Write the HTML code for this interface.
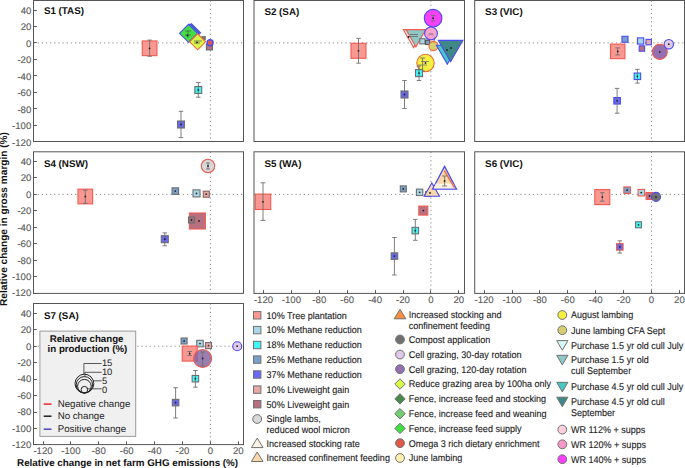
<!DOCTYPE html>
<html><head><meta charset="utf-8"><style>
html,body{margin:0;padding:0;background:#fff;width:685px;height:468px;overflow:hidden}
svg{display:block;text-rendering:geometricPrecision}
</style></head><body>
<svg width="685" height="468" viewBox="0 0 685 468" font-family='"Liberation Sans", sans-serif'><rect width="685" height="468" fill="#fff"/><defs><clipPath id="cp0"><rect x="33.5" y="0.5" width="210.0" height="141.0"/></clipPath><clipPath id="cp1"><rect x="254.0" y="0.5" width="210.5" height="141.0"/></clipPath><clipPath id="cp2"><rect x="474.7" y="0.5" width="209.8" height="141.0"/></clipPath><clipPath id="cp3"><rect x="33.5" y="151.8" width="210.0" height="141.59999999999997"/></clipPath><clipPath id="cp4"><rect x="254.0" y="151.8" width="210.5" height="141.59999999999997"/></clipPath><clipPath id="cp5"><rect x="474.7" y="151.8" width="209.8" height="141.59999999999997"/></clipPath><clipPath id="cp6"><rect x="33.5" y="303.5" width="210.0" height="141.10000000000002"/></clipPath></defs><g clip-path="url(#cp0)"><line x1="33.5" y1="42.9" x2="243.5" y2="42.9" stroke="#8a8a8a" stroke-width="1" stroke-dasharray="1.2 2.95"/><line x1="210.4" y1="0.5" x2="210.4" y2="141.5" stroke="#8a8a8a" stroke-width="1" stroke-dasharray="1.2 2.95"/></g><g clip-path="url(#cp1)"><line x1="254.0" y1="42.9" x2="464.5" y2="42.9" stroke="#8a8a8a" stroke-width="1" stroke-dasharray="1.2 2.95"/><line x1="430.9" y1="0.5" x2="430.9" y2="141.5" stroke="#8a8a8a" stroke-width="1" stroke-dasharray="1.2 2.95"/></g><g clip-path="url(#cp2)"><line x1="474.7" y1="42.9" x2="684.5" y2="42.9" stroke="#8a8a8a" stroke-width="1" stroke-dasharray="1.2 2.95"/><line x1="651.5" y1="0.5" x2="651.5" y2="141.5" stroke="#8a8a8a" stroke-width="1" stroke-dasharray="1.2 2.95"/></g><g clip-path="url(#cp3)"><line x1="33.5" y1="194.4" x2="243.5" y2="194.4" stroke="#8a8a8a" stroke-width="1" stroke-dasharray="1.2 2.95"/><line x1="210.4" y1="151.8" x2="210.4" y2="293.4" stroke="#8a8a8a" stroke-width="1" stroke-dasharray="1.2 2.95"/></g><g clip-path="url(#cp4)"><line x1="254.0" y1="194.4" x2="464.5" y2="194.4" stroke="#8a8a8a" stroke-width="1" stroke-dasharray="1.2 2.95"/><line x1="430.9" y1="151.8" x2="430.9" y2="293.4" stroke="#8a8a8a" stroke-width="1" stroke-dasharray="1.2 2.95"/></g><g clip-path="url(#cp5)"><line x1="474.7" y1="194.4" x2="684.5" y2="194.4" stroke="#8a8a8a" stroke-width="1" stroke-dasharray="1.2 2.95"/><line x1="651.5" y1="151.8" x2="651.5" y2="293.4" stroke="#8a8a8a" stroke-width="1" stroke-dasharray="1.2 2.95"/></g><g clip-path="url(#cp6)"><line x1="33.5" y1="346.2" x2="243.5" y2="346.2" stroke="#8a8a8a" stroke-width="1" stroke-dasharray="1.2 2.95"/><line x1="210.4" y1="303.5" x2="210.4" y2="444.6" stroke="#8a8a8a" stroke-width="1" stroke-dasharray="1.2 2.95"/></g><g clip-path="url(#cp0)"><rect x="142.25" y="40.95" width="14.70" height="14.70" fill="#f89890" stroke="#f25a50" stroke-width="1.1"/><path d="M149.60 40.10V56.30M147.35 40.10h4.5M147.35 56.30h4.5" stroke="#707070" stroke-width="0.9" fill="none"/><circle cx="149.60" cy="48.30" r="0.9" fill="#222"/><polygon points="182.50,32.70 191.50,23.70 200.50,32.70 191.50,41.70" fill="#488848" stroke="#4a4af2" stroke-width="1.1" stroke-linejoin="miter"/><polygon points="181.00,33.00 190.00,24.00 199.00,33.00 190.00,42.00" fill="#70d070" stroke="#4a4af2" stroke-width="1.1" stroke-linejoin="miter"/><polygon points="179.50,33.30 188.50,24.30 197.50,33.30 188.50,42.30" fill="#40e040" stroke="#4a4af2" stroke-width="1.1" stroke-linejoin="miter"/><path d="M185 31h6M185 35h6M188 30v8" stroke="#555" stroke-width="0.7"/><circle cx="187.50" cy="35.50" r="0.9" fill="#222"/><rect x="201.90" y="36.50" width="3.40" height="3.40" fill="#777" stroke="#666" stroke-width="0.8"/><polygon points="189.60,41.80 197.60,33.80 205.60,41.80 197.60,49.80" fill="#d8f848" stroke="#f06838" stroke-width="1.1" stroke-linejoin="miter"/><path d="M194 41h8M194 43h6" stroke="#555" stroke-width="0.7"/><circle cx="197.00" cy="42.50" r="0.9" fill="#222"/><rect x="206.40" y="43.90" width="6.00" height="6.00" fill="#b87080" stroke="#666" stroke-width="1.1"/><circle cx="210.10" cy="42.80" r="3.00" fill="#e05848" stroke="#4a4af2" stroke-width="1.4"/><rect x="194.85" y="86.55" width="6.90" height="6.90" fill="#40f6f6" stroke="#6e6e6e" stroke-width="1.1"/><path d="M198.30 82.50V97.20M196.05 82.50h4.5M196.05 97.20h4.5" stroke="#707070" stroke-width="0.9" fill="none"/><circle cx="198.30" cy="90.00" r="0.9" fill="#222"/><rect x="177.50" y="121.00" width="7.00" height="7.00" fill="#6868f6" stroke="#6e6e6e" stroke-width="1.1"/><path d="M181.00 111.30V137.60M178.75 111.30h4.5M178.75 137.60h4.5" stroke="#707070" stroke-width="0.9" fill="none"/><circle cx="181.00" cy="124.50" r="0.9" fill="#222"/></g><g clip-path="url(#cp1)"><rect x="351.00" y="43.30" width="15.00" height="15.00" fill="#f89890" stroke="#f25a50" stroke-width="1.1"/><path d="M358.50 38.30V63.20M356.25 38.30h4.5M356.25 63.20h4.5" stroke="#707070" stroke-width="0.9" fill="none"/><circle cx="358.50" cy="50.80" r="0.9" fill="#222"/><circle cx="433.10" cy="18.20" r="8.80" fill="#f840f8" stroke="#4a4af2" stroke-width="1.1"/><path d="M433.10 15.50V21.00M431.10 15.50h4M431.10 21.00h4" stroke="#707070" stroke-width="0.9" fill="none"/><circle cx="433.10" cy="18.20" r="0.9" fill="#222"/><polygon points="403.30,29.60 424.00,29.60 413.60,47.60" fill="#d8f8f8" stroke="#f25a50" stroke-width="1.1" stroke-linejoin="miter"/><polygon points="406.00,29.60 425.80,29.60 415.90,46.80" fill="#90c8c8" stroke="#f25a50" stroke-width="1.1" stroke-linejoin="miter"/><path d="M408 36.5h10M410 34.5h8" stroke="#666" stroke-width="0.8"/><circle cx="408.50" cy="37.00" r="0.9" fill="#222"/><circle cx="430.80" cy="38.60" r="4.00" fill="#ffd0dc" stroke="#4a4af2" stroke-width="0.9"/><circle cx="431" cy="33.4" r="6.4" fill="#f898c8" fill-opacity="0.88" stroke="#4a4af2" stroke-width="1.1"/><path d="M428.5 34h5" stroke="#777" stroke-width="1.2"/><rect x="419.80" y="38.70" width="5.20" height="5.20" fill="#a8d8e8" stroke="#6e6e6e" stroke-width="1.1"/><rect x="425.50" y="40.30" width="4.20" height="4.20" fill="#78a0c8" stroke="#555" stroke-width="1.1"/><circle cx="433.50" cy="46.10" r="4.50" fill="#d8d070" stroke="#f06838" stroke-width="1.1"/><polygon points="447.30,64.19 436.40,45.31 458.20,45.31" fill="#48c8c0" stroke="#4a4af2" stroke-width="1.1" stroke-linejoin="miter"/><polygon points="450.60,61.70 438.30,40.40 462.90,40.40" fill="#408888" stroke="#4a4af2" stroke-width="1.1" stroke-linejoin="miter"/><circle cx="447.00" cy="50.00" r="0.9" fill="#222"/><circle cx="451.00" cy="48.00" r="0.9" fill="#222"/><circle cx="425.50" cy="63.00" r="8.70" fill="#f8f040" stroke="#f06838" stroke-width="1.1"/><path d="M422.60 58.00V71.00M420.10 58.00h5M420.10 71.00h5" stroke="#707070" stroke-width="0.9" fill="none"/><path d="M418 65h9M421 61.5h8" stroke="#777" stroke-width="0.8"/><circle cx="425.50" cy="63.00" r="0.9" fill="#222"/><rect x="415.50" y="69.60" width="7.00" height="7.00" fill="#40f6f6" stroke="#6e6e6e" stroke-width="1.1"/><path d="M419.00 66.00V80.50M416.75 66.00h4.5M416.75 80.50h4.5" stroke="#707070" stroke-width="0.9" fill="none"/><circle cx="419.00" cy="73.10" r="0.9" fill="#222"/><rect x="401.00" y="91.00" width="7.00" height="7.00" fill="#6868f6" stroke="#6e6e6e" stroke-width="1.1"/><path d="M404.50 80.50V108.50M402.25 80.50h4.5M402.25 108.50h4.5" stroke="#707070" stroke-width="0.9" fill="none"/><circle cx="404.50" cy="94.50" r="0.9" fill="#222"/></g><g clip-path="url(#cp2)"><rect x="610.45" y="44.15" width="14.50" height="14.50" fill="#f89890" stroke="#f25a50" stroke-width="1.1"/><path d="M617.70 47.90V54.90M615.45 47.90h4.5M615.45 54.90h4.5" stroke="#707070" stroke-width="0.9" fill="none"/><circle cx="617.70" cy="51.40" r="0.9" fill="#222"/><rect x="622.00" y="36.30" width="6.00" height="6.00" fill="#78a0c8" stroke="#4a4af2" stroke-width="1.1"/><rect x="637.50" y="37.90" width="6.20" height="6.20" fill="#a8d8e8" stroke="#4a4af2" stroke-width="1.1"/><rect x="646.00" y="39.40" width="5.40" height="5.40" fill="#e8a8a8" stroke="#4a4af2" stroke-width="1.1"/><rect x="639.20" y="45.80" width="5.40" height="5.40" fill="#b87080" stroke="#4a4af2" stroke-width="1.1"/><circle cx="659.80" cy="51.90" r="7.50" fill="#9470b0" stroke="#f25a50" stroke-width="1.1"/><circle cx="659.80" cy="51.90" r="0.9" fill="#222"/><circle cx="668.80" cy="44.20" r="4.70" fill="#e0c8e8" stroke="#4a4af2" stroke-width="1.1"/><circle cx="668.80" cy="44.20" r="0.9" fill="#222"/><rect x="634.15" y="73.05" width="6.50" height="6.50" fill="#40f6f6" stroke="#4a4af2" stroke-width="1.1"/><path d="M637.40 69.40V83.10M635.15 69.40h4.5M635.15 83.10h4.5" stroke="#707070" stroke-width="0.9" fill="none"/><circle cx="637.40" cy="76.30" r="0.9" fill="#222"/><rect x="613.85" y="97.55" width="6.50" height="6.50" fill="#6868f6" stroke="#4a4af2" stroke-width="1.1"/><path d="M617.10 88.40V113.20M614.85 88.40h4.5M614.85 113.20h4.5" stroke="#707070" stroke-width="0.9" fill="none"/><circle cx="617.10" cy="100.80" r="0.9" fill="#222"/></g><g clip-path="url(#cp3)"><rect x="77.95" y="189.15" width="14.70" height="14.70" fill="#f89890" stroke="#f25a50" stroke-width="1.1"/><path d="M85.30 190.20V203.30M83.05 190.20h4.5M83.05 203.30h4.5" stroke="#707070" stroke-width="0.9" fill="none"/><circle cx="85.30" cy="196.50" r="0.9" fill="#222"/><circle cx="208.00" cy="166.00" r="6.70" fill="#d8d8d8" stroke="#f25a50" stroke-width="1.1"/><path d="M208.00 163.00V169.00M206.00 163.00h4M206.00 169.00h4" stroke="#707070" stroke-width="0.9" fill="none"/><circle cx="208.00" cy="166.00" r="0.9" fill="#222"/><rect x="172.05" y="187.85" width="6.50" height="6.50" fill="#78a0c8" stroke="#6e6e6e" stroke-width="1.1"/><circle cx="175.30" cy="191.10" r="0.9" fill="#222"/><rect x="193.00" y="189.90" width="7.00" height="7.00" fill="#a8d8e8" stroke="#6e6e6e" stroke-width="1.1"/><circle cx="196.50" cy="193.40" r="0.9" fill="#222"/><rect x="203.30" y="191.20" width="6.00" height="6.00" fill="#e8a8a8" stroke="#8a6060" stroke-width="1.1"/><circle cx="206.30" cy="194.20" r="0.9" fill="#222"/><rect x="189.40" y="213.00" width="16.00" height="16.00" fill="#b87080" stroke="#f25a50" stroke-width="1.1"/><circle cx="199.00" cy="221.00" r="0.9" fill="#222"/><rect x="188.50" y="217.00" width="6.00" height="6.00" fill="#a07080" stroke="#6e6e6e" stroke-width="1.1"/><circle cx="191.50" cy="220.00" r="0.9" fill="#222"/><rect x="161.30" y="235.70" width="7.00" height="7.00" fill="#6868f6" stroke="#6e6e6e" stroke-width="1.1"/><path d="M164.80 232.90V245.80M162.55 232.90h4.5M162.55 245.80h4.5" stroke="#707070" stroke-width="0.9" fill="none"/><circle cx="164.80" cy="239.20" r="0.9" fill="#222"/></g><g clip-path="url(#cp4)"><rect x="255.30" y="194.10" width="15.40" height="15.40" fill="#f89890" stroke="#f25a50" stroke-width="1.1"/><path d="M263.00 182.80V220.40M260.50 182.80h5M260.50 220.40h5" stroke="#707070" stroke-width="0.9" fill="none"/><circle cx="263.00" cy="201.80" r="0.9" fill="#222"/><rect x="400.30" y="185.90" width="6.00" height="6.00" fill="#78a0c8" stroke="#6e6e6e" stroke-width="1.1"/><circle cx="403.30" cy="188.90" r="0.9" fill="#222"/><rect x="416.40" y="189.10" width="6.40" height="6.40" fill="#a8d8e8" stroke="#6e6e6e" stroke-width="1.1"/><circle cx="419.60" cy="192.30" r="0.9" fill="#222"/><rect x="425.80" y="191.50" width="5.00" height="5.00" fill="#888" stroke="#555" stroke-width="1.1"/><polygon points="431.80,182.91 424.10,196.25 439.50,196.25" fill="#f8d8a8" stroke="#4a4af2" stroke-width="1.1" stroke-linejoin="miter"/><circle cx="430.00" cy="193.00" r="0.9" fill="#222"/><polygon points="444.60,166.40 432.60,189.00 456.50,189.00" fill="#f8d8a8" stroke="#4a4af2" stroke-width="1.3" stroke-linejoin="miter"/><polygon points="436.00,183.50 433.60,188.40 455.50,188.40 453.00,183.50" fill="#fff4e4" stroke="none" stroke-width="0" stroke-linejoin="miter"/><path d="M444.4 170.6L454.5 187.8" stroke="#f06838" stroke-width="1.3"/><path d="M444.60 176.00V186.00M442.10 176.00h5M442.10 186.00h5" stroke="#707070" stroke-width="0.9" fill="none"/><circle cx="444.60" cy="181.00" r="0.9" fill="#222"/><rect x="418.80" y="206.10" width="9.00" height="9.00" fill="#b87080" stroke="#f25a50" stroke-width="1.1"/><circle cx="423.30" cy="210.60" r="0.9" fill="#222"/><rect x="412.05" y="227.35" width="6.50" height="6.50" fill="#40f6f6" stroke="#6e6e6e" stroke-width="1.1"/><path d="M415.30 219.40V240.30M413.05 219.40h4.5M413.05 240.30h4.5" stroke="#707070" stroke-width="0.9" fill="none"/><circle cx="415.30" cy="230.60" r="0.9" fill="#222"/><rect x="391.15" y="252.85" width="6.50" height="6.50" fill="#6868f6" stroke="#6e6e6e" stroke-width="1.1"/><path d="M394.40 237.50V275.00M392.15 237.50h4.5M392.15 275.00h4.5" stroke="#707070" stroke-width="0.9" fill="none"/><circle cx="394.40" cy="256.10" r="0.9" fill="#222"/></g><g clip-path="url(#cp5)"><rect x="594.80" y="189.60" width="15.00" height="15.00" fill="#f89890" stroke="#f25a50" stroke-width="1.1"/><path d="M602.30 192.70V201.20M600.05 192.70h4.5M600.05 201.20h4.5" stroke="#707070" stroke-width="0.9" fill="none"/><circle cx="602.30" cy="197.10" r="0.9" fill="#222"/><rect x="623.85" y="186.95" width="6.50" height="6.50" fill="#78a0c8" stroke="#f25a50" stroke-width="1.1"/><circle cx="627.10" cy="190.20" r="0.9" fill="#222"/><rect x="638.05" y="189.45" width="6.50" height="6.50" fill="#a8d8e8" stroke="#f25a50" stroke-width="1.1"/><circle cx="641.30" cy="192.70" r="0.9" fill="#222"/><rect x="646.10" y="192.50" width="7.00" height="7.00" fill="#b87080" stroke="#f25a50" stroke-width="1.1"/><circle cx="649.60" cy="196.00" r="0.9" fill="#222"/><circle cx="656.00" cy="196.90" r="4.50" fill="#707070" stroke="#4a4af2" stroke-width="1.1"/><circle cx="656.00" cy="196.90" r="0.9" fill="#222"/><rect x="635.50" y="221.80" width="6.00" height="6.00" fill="#40f6f6" stroke="#6e6e6e" stroke-width="1.1"/><circle cx="638.50" cy="224.80" r="0.9" fill="#222"/><rect x="616.55" y="243.65" width="6.50" height="6.50" fill="#6868f6" stroke="#f25a50" stroke-width="1.1"/><path d="M619.80 240.80V253.10M617.55 240.80h4.5M617.55 253.10h4.5" stroke="#707070" stroke-width="0.9" fill="none"/><circle cx="619.80" cy="246.90" r="0.9" fill="#222"/></g><g clip-path="url(#cp6)"><rect x="181.10" y="338.00" width="6.00" height="6.00" fill="#78a0c8" stroke="#6e6e6e" stroke-width="1.1"/><circle cx="184.10" cy="341.00" r="0.9" fill="#222"/><rect x="196.75" y="340.35" width="6.50" height="6.50" fill="#a8d8e8" stroke="#6e6e6e" stroke-width="1.1"/><circle cx="200.00" cy="343.60" r="0.9" fill="#222"/><rect x="205.50" y="342.60" width="6.00" height="6.00" fill="#e8a8a8" stroke="#6e6e6e" stroke-width="1.1"/><circle cx="208.50" cy="345.60" r="0.9" fill="#222"/><rect x="182.20" y="346.10" width="15.00" height="15.00" fill="#f89890" stroke="#f25a50" stroke-width="1.1"/><path d="M189.70 351.50V355.50M187.45 351.50h4.5M187.45 355.50h4.5" stroke="#707070" stroke-width="0.9" fill="none"/><circle cx="189.70" cy="353.60" r="0.9" fill="#222"/><circle cx="202.6" cy="358.5" r="9" fill="#84629f" fill-opacity="0.82" stroke="#f25a50" stroke-width="1.1"/><path d="M202.60 352.00V366.00M200.35 352.00h4.5M200.35 366.00h4.5" stroke="#707070" stroke-width="0.9" fill="none"/><circle cx="202.60" cy="358.50" r="0.9" fill="#222"/><circle cx="237.20" cy="346.20" r="4.50" fill="#e0c8e8" stroke="#4a4af2" stroke-width="1.1"/><circle cx="237.20" cy="346.20" r="0.9" fill="#222"/><rect x="192.15" y="375.45" width="6.50" height="6.50" fill="#40f6f6" stroke="#6e6e6e" stroke-width="1.1"/><path d="M195.40 370.50V387.20M193.15 370.50h4.5M193.15 387.20h4.5" stroke="#707070" stroke-width="0.9" fill="none"/><circle cx="195.40" cy="378.70" r="0.9" fill="#222"/><rect x="172.35" y="399.35" width="6.50" height="6.50" fill="#6868f6" stroke="#6e6e6e" stroke-width="1.1"/><path d="M175.60 387.70V418.00M173.35 387.70h4.5M173.35 418.00h4.5" stroke="#707070" stroke-width="0.9" fill="none"/><circle cx="175.60" cy="402.60" r="0.9" fill="#222"/></g><rect x="33.5" y="0.5" width="210.0" height="141.0" fill="none" stroke="#555555" stroke-width="1"/><text x="43.90" y="14.10" font-size="9.8" text-anchor="start" font-weight="bold" fill="#111" >S1 (TAS)</text><line x1="33.5" y1="10.50" x2="36.7" y2="10.50" stroke="#555555" stroke-width="1"/><text x="31.30" y="14.00" font-size="9.6" text-anchor="end" font-weight="normal" fill="#585858" stroke="#585858" stroke-width="0.1" >40</text><line x1="33.5" y1="26.50" x2="36.7" y2="26.50" stroke="#555555" stroke-width="1"/><text x="31.30" y="30.45" font-size="9.6" text-anchor="end" font-weight="normal" fill="#585858" stroke="#585858" stroke-width="0.1" >20</text><line x1="33.5" y1="42.50" x2="36.7" y2="42.50" stroke="#555555" stroke-width="1"/><text x="31.30" y="46.90" font-size="9.6" text-anchor="end" font-weight="normal" fill="#585858" stroke="#585858" stroke-width="0.1" >0</text><line x1="33.5" y1="59.50" x2="36.7" y2="59.50" stroke="#555555" stroke-width="1"/><text x="31.30" y="63.35" font-size="9.6" text-anchor="end" font-weight="normal" fill="#585858" stroke="#585858" stroke-width="0.1" >-20</text><line x1="33.5" y1="75.50" x2="36.7" y2="75.50" stroke="#555555" stroke-width="1"/><text x="31.30" y="79.80" font-size="9.6" text-anchor="end" font-weight="normal" fill="#585858" stroke="#585858" stroke-width="0.1" >-40</text><line x1="33.5" y1="92.50" x2="36.7" y2="92.50" stroke="#555555" stroke-width="1"/><text x="31.30" y="96.25" font-size="9.6" text-anchor="end" font-weight="normal" fill="#585858" stroke="#585858" stroke-width="0.1" >-60</text><line x1="33.5" y1="108.50" x2="36.7" y2="108.50" stroke="#555555" stroke-width="1"/><text x="31.30" y="112.70" font-size="9.6" text-anchor="end" font-weight="normal" fill="#585858" stroke="#585858" stroke-width="0.1" >-80</text><line x1="33.5" y1="125.50" x2="36.7" y2="125.50" stroke="#555555" stroke-width="1"/><text x="31.30" y="129.15" font-size="9.6" text-anchor="end" font-weight="normal" fill="#585858" stroke="#585858" stroke-width="0.1" >-100</text><line x1="33.5" y1="141.50" x2="36.7" y2="141.50" stroke="#555555" stroke-width="1"/><text x="31.30" y="145.60" font-size="9.6" text-anchor="end" font-weight="normal" fill="#585858" stroke="#585858" stroke-width="0.1" >-120</text><rect x="254.0" y="0.5" width="210.5" height="141.0" fill="none" stroke="#555555" stroke-width="1"/><text x="264.40" y="15.10" font-size="9.8" text-anchor="start" font-weight="bold" fill="#111" >S2 (SA)</text><rect x="474.7" y="0.5" width="209.8" height="141.0" fill="none" stroke="#555555" stroke-width="1"/><text x="485.10" y="15.10" font-size="9.8" text-anchor="start" font-weight="bold" fill="#111" >S3 (VIC)</text><rect x="33.5" y="151.8" width="210.0" height="141.59999999999997" fill="none" stroke="#555555" stroke-width="1"/><text x="43.90" y="167.30" font-size="9.8" text-anchor="start" font-weight="bold" fill="#111" >S4 (NSW)</text><line x1="33.5" y1="161.50" x2="36.7" y2="161.50" stroke="#555555" stroke-width="1"/><text x="31.30" y="164.80" font-size="9.6" text-anchor="end" font-weight="normal" fill="#585858" stroke="#585858" stroke-width="0.1" >40</text><line x1="33.5" y1="177.50" x2="36.7" y2="177.50" stroke="#555555" stroke-width="1"/><text x="31.30" y="181.25" font-size="9.6" text-anchor="end" font-weight="normal" fill="#585858" stroke="#585858" stroke-width="0.1" >20</text><line x1="33.5" y1="194.50" x2="36.7" y2="194.50" stroke="#555555" stroke-width="1"/><text x="31.30" y="197.70" font-size="9.6" text-anchor="end" font-weight="normal" fill="#585858" stroke="#585858" stroke-width="0.1" >0</text><line x1="33.5" y1="210.50" x2="36.7" y2="210.50" stroke="#555555" stroke-width="1"/><text x="31.30" y="214.15" font-size="9.6" text-anchor="end" font-weight="normal" fill="#585858" stroke="#585858" stroke-width="0.1" >-20</text><line x1="33.5" y1="227.50" x2="36.7" y2="227.50" stroke="#555555" stroke-width="1"/><text x="31.30" y="230.60" font-size="9.6" text-anchor="end" font-weight="normal" fill="#585858" stroke="#585858" stroke-width="0.1" >-40</text><line x1="33.5" y1="243.50" x2="36.7" y2="243.50" stroke="#555555" stroke-width="1"/><text x="31.30" y="247.05" font-size="9.6" text-anchor="end" font-weight="normal" fill="#585858" stroke="#585858" stroke-width="0.1" >-60</text><line x1="33.5" y1="260.50" x2="36.7" y2="260.50" stroke="#555555" stroke-width="1"/><text x="31.30" y="263.50" font-size="9.6" text-anchor="end" font-weight="normal" fill="#585858" stroke="#585858" stroke-width="0.1" >-80</text><line x1="33.5" y1="276.50" x2="36.7" y2="276.50" stroke="#555555" stroke-width="1"/><text x="31.30" y="279.95" font-size="9.6" text-anchor="end" font-weight="normal" fill="#585858" stroke="#585858" stroke-width="0.1" >-100</text><line x1="33.5" y1="293.50" x2="36.7" y2="293.50" stroke="#555555" stroke-width="1"/><text x="31.30" y="296.40" font-size="9.6" text-anchor="end" font-weight="normal" fill="#585858" stroke="#585858" stroke-width="0.1" >-120</text><rect x="254.0" y="151.8" width="210.5" height="141.59999999999997" fill="none" stroke="#555555" stroke-width="1"/><text x="264.40" y="167.30" font-size="9.8" text-anchor="start" font-weight="bold" fill="#111" >S5 (WA)</text><line x1="263.50" y1="293.4" x2="263.50" y2="290.2" stroke="#555555" stroke-width="1"/><text x="263.50" y="303.00" font-size="9.6" text-anchor="middle" font-weight="normal" fill="#585858" stroke="#585858" stroke-width="0.1" >-120</text><line x1="291.50" y1="293.4" x2="291.50" y2="290.2" stroke="#555555" stroke-width="1"/><text x="291.40" y="303.00" font-size="9.6" text-anchor="middle" font-weight="normal" fill="#585858" stroke="#585858" stroke-width="0.1" >-100</text><line x1="319.50" y1="293.4" x2="319.50" y2="290.2" stroke="#555555" stroke-width="1"/><text x="319.30" y="303.00" font-size="9.6" text-anchor="middle" font-weight="normal" fill="#585858" stroke="#585858" stroke-width="0.1" >-80</text><line x1="347.50" y1="293.4" x2="347.50" y2="290.2" stroke="#555555" stroke-width="1"/><text x="347.20" y="303.00" font-size="9.6" text-anchor="middle" font-weight="normal" fill="#585858" stroke="#585858" stroke-width="0.1" >-60</text><line x1="375.50" y1="293.4" x2="375.50" y2="290.2" stroke="#555555" stroke-width="1"/><text x="375.10" y="303.00" font-size="9.6" text-anchor="middle" font-weight="normal" fill="#585858" stroke="#585858" stroke-width="0.1" >-40</text><line x1="403.50" y1="293.4" x2="403.50" y2="290.2" stroke="#555555" stroke-width="1"/><text x="403.00" y="303.00" font-size="9.6" text-anchor="middle" font-weight="normal" fill="#585858" stroke="#585858" stroke-width="0.1" >-20</text><line x1="430.50" y1="293.4" x2="430.50" y2="290.2" stroke="#555555" stroke-width="1"/><text x="430.90" y="303.00" font-size="9.6" text-anchor="middle" font-weight="normal" fill="#585858" stroke="#585858" stroke-width="0.1" >0</text><line x1="458.50" y1="293.4" x2="458.50" y2="290.2" stroke="#555555" stroke-width="1"/><text x="458.80" y="303.00" font-size="9.6" text-anchor="middle" font-weight="normal" fill="#585858" stroke="#585858" stroke-width="0.1" >20</text><rect x="474.7" y="151.8" width="209.8" height="141.59999999999997" fill="none" stroke="#555555" stroke-width="1"/><text x="485.10" y="167.30" font-size="9.8" text-anchor="start" font-weight="bold" fill="#111" >S6 (VIC)</text><line x1="484.50" y1="293.4" x2="484.50" y2="290.2" stroke="#555555" stroke-width="1"/><text x="484.10" y="303.00" font-size="9.6" text-anchor="middle" font-weight="normal" fill="#585858" stroke="#585858" stroke-width="0.1" >-120</text><line x1="512.50" y1="293.4" x2="512.50" y2="290.2" stroke="#555555" stroke-width="1"/><text x="512.00" y="303.00" font-size="9.6" text-anchor="middle" font-weight="normal" fill="#585858" stroke="#585858" stroke-width="0.1" >-100</text><line x1="539.50" y1="293.4" x2="539.50" y2="290.2" stroke="#555555" stroke-width="1"/><text x="539.90" y="303.00" font-size="9.6" text-anchor="middle" font-weight="normal" fill="#585858" stroke="#585858" stroke-width="0.1" >-80</text><line x1="567.50" y1="293.4" x2="567.50" y2="290.2" stroke="#555555" stroke-width="1"/><text x="567.80" y="303.00" font-size="9.6" text-anchor="middle" font-weight="normal" fill="#585858" stroke="#585858" stroke-width="0.1" >-60</text><line x1="595.50" y1="293.4" x2="595.50" y2="290.2" stroke="#555555" stroke-width="1"/><text x="595.70" y="303.00" font-size="9.6" text-anchor="middle" font-weight="normal" fill="#585858" stroke="#585858" stroke-width="0.1" >-40</text><line x1="623.50" y1="293.4" x2="623.50" y2="290.2" stroke="#555555" stroke-width="1"/><text x="623.60" y="303.00" font-size="9.6" text-anchor="middle" font-weight="normal" fill="#585858" stroke="#585858" stroke-width="0.1" >-20</text><line x1="651.50" y1="293.4" x2="651.50" y2="290.2" stroke="#555555" stroke-width="1"/><text x="651.50" y="303.00" font-size="9.6" text-anchor="middle" font-weight="normal" fill="#585858" stroke="#585858" stroke-width="0.1" >0</text><line x1="679.50" y1="293.4" x2="679.50" y2="290.2" stroke="#555555" stroke-width="1"/><text x="679.40" y="303.00" font-size="9.6" text-anchor="middle" font-weight="normal" fill="#585858" stroke="#585858" stroke-width="0.1" >20</text><rect x="33.5" y="303.5" width="210.0" height="141.10000000000002" fill="none" stroke="#555555" stroke-width="1"/><text x="43.90" y="319.20" font-size="9.8" text-anchor="start" font-weight="bold" fill="#111" >S7 (SA)</text><line x1="33.5" y1="313.50" x2="36.7" y2="313.50" stroke="#555555" stroke-width="1"/><text x="31.30" y="316.60" font-size="9.6" text-anchor="end" font-weight="normal" fill="#585858" stroke="#585858" stroke-width="0.1" >40</text><line x1="33.5" y1="329.50" x2="36.7" y2="329.50" stroke="#555555" stroke-width="1"/><text x="31.30" y="333.05" font-size="9.6" text-anchor="end" font-weight="normal" fill="#585858" stroke="#585858" stroke-width="0.1" >20</text><line x1="33.5" y1="346.50" x2="36.7" y2="346.50" stroke="#555555" stroke-width="1"/><text x="31.30" y="349.50" font-size="9.6" text-anchor="end" font-weight="normal" fill="#585858" stroke="#585858" stroke-width="0.1" >0</text><line x1="33.5" y1="362.50" x2="36.7" y2="362.50" stroke="#555555" stroke-width="1"/><text x="31.30" y="365.95" font-size="9.6" text-anchor="end" font-weight="normal" fill="#585858" stroke="#585858" stroke-width="0.1" >-20</text><line x1="33.5" y1="379.50" x2="36.7" y2="379.50" stroke="#555555" stroke-width="1"/><text x="31.30" y="382.40" font-size="9.6" text-anchor="end" font-weight="normal" fill="#585858" stroke="#585858" stroke-width="0.1" >-40</text><line x1="33.5" y1="395.50" x2="36.7" y2="395.50" stroke="#555555" stroke-width="1"/><text x="31.30" y="398.85" font-size="9.6" text-anchor="end" font-weight="normal" fill="#585858" stroke="#585858" stroke-width="0.1" >-60</text><line x1="33.5" y1="412.50" x2="36.7" y2="412.50" stroke="#555555" stroke-width="1"/><text x="31.30" y="415.30" font-size="9.6" text-anchor="end" font-weight="normal" fill="#585858" stroke="#585858" stroke-width="0.1" >-80</text><line x1="33.5" y1="428.50" x2="36.7" y2="428.50" stroke="#555555" stroke-width="1"/><text x="31.30" y="431.75" font-size="9.6" text-anchor="end" font-weight="normal" fill="#585858" stroke="#585858" stroke-width="0.1" >-100</text><line x1="33.5" y1="444.50" x2="36.7" y2="444.50" stroke="#555555" stroke-width="1"/><text x="31.30" y="448.20" font-size="9.6" text-anchor="end" font-weight="normal" fill="#585858" stroke="#585858" stroke-width="0.1" >-120</text><line x1="43.50" y1="444.6" x2="43.50" y2="441.40000000000003" stroke="#555555" stroke-width="1"/><text x="43.00" y="454.20" font-size="9.6" text-anchor="middle" font-weight="normal" fill="#585858" stroke="#585858" stroke-width="0.1" >-120</text><line x1="70.50" y1="444.6" x2="70.50" y2="441.40000000000003" stroke="#555555" stroke-width="1"/><text x="70.90" y="454.20" font-size="9.6" text-anchor="middle" font-weight="normal" fill="#585858" stroke="#585858" stroke-width="0.1" >-100</text><line x1="98.50" y1="444.6" x2="98.50" y2="441.40000000000003" stroke="#555555" stroke-width="1"/><text x="98.80" y="454.20" font-size="9.6" text-anchor="middle" font-weight="normal" fill="#585858" stroke="#585858" stroke-width="0.1" >-80</text><line x1="126.50" y1="444.6" x2="126.50" y2="441.40000000000003" stroke="#555555" stroke-width="1"/><text x="126.70" y="454.20" font-size="9.6" text-anchor="middle" font-weight="normal" fill="#585858" stroke="#585858" stroke-width="0.1" >-60</text><line x1="154.50" y1="444.6" x2="154.50" y2="441.40000000000003" stroke="#555555" stroke-width="1"/><text x="154.60" y="454.20" font-size="9.6" text-anchor="middle" font-weight="normal" fill="#585858" stroke="#585858" stroke-width="0.1" >-40</text><line x1="182.50" y1="444.6" x2="182.50" y2="441.40000000000003" stroke="#555555" stroke-width="1"/><text x="182.50" y="454.20" font-size="9.6" text-anchor="middle" font-weight="normal" fill="#585858" stroke="#585858" stroke-width="0.1" >-20</text><line x1="210.50" y1="444.6" x2="210.50" y2="441.40000000000003" stroke="#555555" stroke-width="1"/><text x="210.40" y="454.20" font-size="9.6" text-anchor="middle" font-weight="normal" fill="#585858" stroke="#585858" stroke-width="0.1" >0</text><line x1="238.50" y1="444.6" x2="238.50" y2="441.40000000000003" stroke="#555555" stroke-width="1"/><text x="238.30" y="454.20" font-size="9.6" text-anchor="middle" font-weight="normal" fill="#585858" stroke="#585858" stroke-width="0.1" >20</text><rect x="39.9" y="331.1" width="95.8" height="105.3" fill="#f0f0f0" stroke="#9a9a9a" stroke-width="1"/><text x="86.60" y="341.60" font-size="9.7" text-anchor="middle" font-weight="bold" fill="#111" >Relative change</text><text x="87.40" y="352.30" font-size="9.7" text-anchor="middle" font-weight="bold" fill="#111" >in production (%)</text><circle cx="84.4" cy="383.60" r="9.4" fill="none" stroke="#222" stroke-width="1"/><circle cx="84.4" cy="384.80" r="8.2" fill="none" stroke="#222" stroke-width="1"/><circle cx="84.4" cy="386.20" r="6.8" fill="none" stroke="#222" stroke-width="1"/><circle cx="84.4" cy="389.70" r="3.3" fill="none" stroke="#222" stroke-width="1"/><path d="M83.9 374V363.5H101.7M84.9 376.6V372.3H101.7M93.6 380.8H101.7M86.7 388.8H101.7" fill="none" stroke="#333" stroke-width="0.8"/><text x="101.90" y="365.60" font-size="9.4" text-anchor="start" font-weight="normal" fill="#222" >15</text><text x="101.90" y="374.90" font-size="9.4" text-anchor="start" font-weight="normal" fill="#222" >10</text><text x="101.90" y="384.30" font-size="9.4" text-anchor="start" font-weight="normal" fill="#222" >5</text><text x="101.90" y="393.30" font-size="9.4" text-anchor="start" font-weight="normal" fill="#222" >0</text><line x1="43.7" y1="404.1" x2="51.5" y2="404.1" stroke="#f01818" stroke-width="1.4"/><text x="57.70" y="407.00" font-size="9.7" text-anchor="start" font-weight="normal" fill="#222" >Negative change</text><line x1="43.7" y1="416.2" x2="51.5" y2="416.2" stroke="#111" stroke-width="1.4"/><text x="57.70" y="419.10" font-size="9.7" text-anchor="start" font-weight="normal" fill="#222" >No change</text><line x1="43.7" y1="429.2" x2="51.5" y2="429.2" stroke="#3a3ab8" stroke-width="1.4"/><text x="57.70" y="432.10" font-size="9.7" text-anchor="start" font-weight="normal" fill="#222" >Positive change</text><text x="127.60" y="465.80" font-size="9.8" text-anchor="middle" font-weight="bold" fill="#111" >Relative change in net farm GHG emissions (%)</text><text x="0" y="0" font-size="10.1" font-weight="bold" fill="#111" text-anchor="middle" transform="translate(7.4 219) rotate(-90)">Relative change in gross margin (%)</text><rect x="253.50" y="311.60" width="7.40" height="7.40" fill="#f89890" stroke="#707070" stroke-width="1"/><text x="0" y="0" transform="translate(266.60 318.60) scale(1 1.08)" font-size="9.03" text-anchor="start" font-weight="normal" fill="#1a1a1a" stroke="#1a1a1a" stroke-width="0.1" >10% Tree plantation</text><rect x="253.50" y="326.40" width="7.40" height="7.40" fill="#a8d8e8" stroke="#707070" stroke-width="1"/><text x="0" y="0" transform="translate(266.60 333.40) scale(1 1.08)" font-size="9.03" text-anchor="start" font-weight="normal" fill="#1a1a1a" stroke="#1a1a1a" stroke-width="0.1" >10% Methane reduction</text><rect x="253.50" y="341.30" width="7.40" height="7.40" fill="#40f6f6" stroke="#707070" stroke-width="1"/><text x="0" y="0" transform="translate(266.60 348.30) scale(1 1.08)" font-size="9.03" text-anchor="start" font-weight="normal" fill="#1a1a1a" stroke="#1a1a1a" stroke-width="0.1" >18% Methane reduction</text><rect x="253.50" y="355.90" width="7.40" height="7.40" fill="#78a0c8" stroke="#707070" stroke-width="1"/><text x="0" y="0" transform="translate(266.60 362.90) scale(1 1.08)" font-size="9.03" text-anchor="start" font-weight="normal" fill="#1a1a1a" stroke="#1a1a1a" stroke-width="0.1" >25% Methane reduction</text><rect x="253.50" y="370.80" width="7.40" height="7.40" fill="#6868f6" stroke="#707070" stroke-width="1"/><text x="0" y="0" transform="translate(266.60 377.80) scale(1 1.08)" font-size="9.03" text-anchor="start" font-weight="normal" fill="#1a1a1a" stroke="#1a1a1a" stroke-width="0.1" >37% Methane reduction</text><rect x="253.50" y="385.90" width="7.40" height="7.40" fill="#e8a8a8" stroke="#707070" stroke-width="1"/><text x="0" y="0" transform="translate(266.60 392.90) scale(1 1.08)" font-size="9.03" text-anchor="start" font-weight="normal" fill="#1a1a1a" stroke="#1a1a1a" stroke-width="0.1" >10% Liveweight gain</text><rect x="253.50" y="400.50" width="7.40" height="7.40" fill="#b87080" stroke="#707070" stroke-width="1"/><text x="0" y="0" transform="translate(266.60 407.50) scale(1 1.08)" font-size="9.03" text-anchor="start" font-weight="normal" fill="#1a1a1a" stroke="#1a1a1a" stroke-width="0.1" >50% Liveweight gain</text><circle cx="257.20" cy="419.00" r="4.40" fill="#d8d8d8" stroke="#707070" stroke-width="1"/><text x="0" y="0" transform="translate(266.60 422.30) scale(1 1.08)" font-size="9.03" text-anchor="start" font-weight="normal" fill="#1a1a1a" stroke="#1a1a1a" stroke-width="0.1" >Single lambs,</text><text x="0" y="0" transform="translate(266.60 433.10) scale(1 1.08)" font-size="9.03" text-anchor="start" font-weight="normal" fill="#1a1a1a" stroke="#1a1a1a" stroke-width="0.1" >reduced wool micron</text><polygon points="257.20,438.10 251.40,447.60 263.00,447.60" fill="#fff4e4" stroke="#707070" stroke-width="1" stroke-linejoin="miter"/><text x="0" y="0" transform="translate(266.60 446.60) scale(1 1.08)" font-size="9.03" text-anchor="start" font-weight="normal" fill="#1a1a1a" stroke="#1a1a1a" stroke-width="0.1" >Increased stocking rate</text><polygon points="257.20,452.00 251.40,461.50 263.00,461.50" fill="#f8d8a8" stroke="#707070" stroke-width="1" stroke-linejoin="miter"/><text x="0" y="0" transform="translate(266.60 460.50) scale(1 1.08)" font-size="9.03" text-anchor="start" font-weight="normal" fill="#1a1a1a" stroke="#1a1a1a" stroke-width="0.1" >Increased confinement feeding</text><polygon points="400.00,309.30 394.20,318.80 405.80,318.80" fill="#f89040" stroke="#707070" stroke-width="1" stroke-linejoin="miter"/><text x="0" y="0" transform="translate(408.70 317.80) scale(1 1.08)" font-size="9.03" text-anchor="start" font-weight="normal" fill="#1a1a1a" stroke="#1a1a1a" stroke-width="0.1" >Increased stocking and</text><text x="0" y="0" transform="translate(408.70 328.60) scale(1 1.08)" font-size="9.03" text-anchor="start" font-weight="normal" fill="#1a1a1a" stroke="#1a1a1a" stroke-width="0.1" >confinement feeding</text><circle cx="400.00" cy="339.50" r="4.40" fill="#707070" stroke="#707070" stroke-width="1"/><text x="0" y="0" transform="translate(408.70 342.80) scale(1 1.08)" font-size="9.03" text-anchor="start" font-weight="normal" fill="#1a1a1a" stroke="#1a1a1a" stroke-width="0.1" >Compost application</text><circle cx="400.00" cy="354.50" r="4.40" fill="#e0c8e8" stroke="#707070" stroke-width="1"/><text x="0" y="0" transform="translate(408.70 357.80) scale(1 1.08)" font-size="9.03" text-anchor="start" font-weight="normal" fill="#1a1a1a" stroke="#1a1a1a" stroke-width="0.1" >Cell grazing, 30-day rotation</text><circle cx="400.00" cy="369.20" r="4.40" fill="#9470b0" stroke="#707070" stroke-width="1"/><text x="0" y="0" transform="translate(408.70 372.50) scale(1 1.08)" font-size="9.03" text-anchor="start" font-weight="normal" fill="#1a1a1a" stroke="#1a1a1a" stroke-width="0.1" >Cell grazing, 120-day rotation</text><polygon points="394.80,384.00 400.00,378.80 405.20,384.00 400.00,389.20" fill="#d8f848" stroke="#707070" stroke-width="1" stroke-linejoin="miter"/><text x="0" y="0" transform="translate(408.70 387.30) scale(1 1.08)" font-size="9.03" text-anchor="start" font-weight="normal" fill="#1a1a1a" stroke="#1a1a1a" stroke-width="0.1" >Reduce grazing area by 100ha only</text><polygon points="394.80,398.90 400.00,393.70 405.20,398.90 400.00,404.10" fill="#488848" stroke="#707070" stroke-width="1" stroke-linejoin="miter"/><text x="0" y="0" transform="translate(408.70 402.20) scale(1 1.08)" font-size="9.03" text-anchor="start" font-weight="normal" fill="#1a1a1a" stroke="#1a1a1a" stroke-width="0.1" >Fence, increase feed and stocking</text><polygon points="394.80,413.70 400.00,408.50 405.20,413.70 400.00,418.90" fill="#70d070" stroke="#707070" stroke-width="1" stroke-linejoin="miter"/><text x="0" y="0" transform="translate(408.70 417.00) scale(1 1.08)" font-size="9.03" text-anchor="start" font-weight="normal" fill="#1a1a1a" stroke="#1a1a1a" stroke-width="0.1" >Fence, increase feed and weaning</text><polygon points="394.80,428.40 400.00,423.20 405.20,428.40 400.00,433.60" fill="#40e040" stroke="#707070" stroke-width="1" stroke-linejoin="miter"/><text x="0" y="0" transform="translate(408.70 431.70) scale(1 1.08)" font-size="9.03" text-anchor="start" font-weight="normal" fill="#1a1a1a" stroke="#1a1a1a" stroke-width="0.1" >Fence, increase feed supply</text><circle cx="400.00" cy="443.20" r="4.40" fill="#e05848" stroke="#707070" stroke-width="1"/><text x="0" y="0" transform="translate(408.70 446.50) scale(1 1.08)" font-size="9.03" text-anchor="start" font-weight="normal" fill="#1a1a1a" stroke="#1a1a1a" stroke-width="0.1" >Omega 3 rich dietary enrichment</text><circle cx="400.00" cy="458.00" r="4.40" fill="#fff0b0" stroke="#707070" stroke-width="1"/><text x="0" y="0" transform="translate(408.70 461.30) scale(1 1.08)" font-size="9.03" text-anchor="start" font-weight="normal" fill="#1a1a1a" stroke="#1a1a1a" stroke-width="0.1" >June lambing</text><circle cx="562.30" cy="315.00" r="4.40" fill="#f8f040" stroke="#707070" stroke-width="1"/><text x="0" y="0" transform="translate(571.00 318.30) scale(1 1.08)" font-size="9.03" text-anchor="start" font-weight="normal" fill="#1a1a1a" stroke="#1a1a1a" stroke-width="0.1" >August lambing</text><circle cx="562.30" cy="330.20" r="4.40" fill="#d8d070" stroke="#707070" stroke-width="1"/><text x="0" y="0" transform="translate(571.00 333.50) scale(1 1.08)" font-size="9.03" text-anchor="start" font-weight="normal" fill="#1a1a1a" stroke="#1a1a1a" stroke-width="0.1" >June lambing CFA Sept</text><polygon points="562.30,350.20 556.70,340.60 567.90,340.60" fill="#d8f8f8" stroke="#707070" stroke-width="1" stroke-linejoin="miter"/><text x="0" y="0" transform="translate(571.00 348.70) scale(1 1.08)" font-size="9.03" text-anchor="start" font-weight="normal" fill="#1a1a1a" stroke="#1a1a1a" stroke-width="0.1" >Purchase 1.5 yr old cull July</text><polygon points="562.30,364.90 556.70,355.30 567.90,355.30" fill="#90c8c8" stroke="#707070" stroke-width="1" stroke-linejoin="miter"/><text x="0" y="0" transform="translate(571.00 363.40) scale(1 1.08)" font-size="9.03" text-anchor="start" font-weight="normal" fill="#1a1a1a" stroke="#1a1a1a" stroke-width="0.1" >Purchase 1.5 yr old</text><text x="0" y="0" transform="translate(571.00 374.20) scale(1 1.08)" font-size="9.03" text-anchor="start" font-weight="normal" fill="#1a1a1a" stroke="#1a1a1a" stroke-width="0.1" >cull September</text><polygon points="562.30,391.90 556.70,382.30 567.90,382.30" fill="#48c8c0" stroke="#707070" stroke-width="1" stroke-linejoin="miter"/><text x="0" y="0" transform="translate(571.00 390.40) scale(1 1.08)" font-size="9.03" text-anchor="start" font-weight="normal" fill="#1a1a1a" stroke="#1a1a1a" stroke-width="0.1" >Purchase 4.5 yr old cull July</text><polygon points="562.30,406.80 556.70,397.20 567.90,397.20" fill="#408888" stroke="#707070" stroke-width="1" stroke-linejoin="miter"/><text x="0" y="0" transform="translate(571.00 405.30) scale(1 1.08)" font-size="9.03" text-anchor="start" font-weight="normal" fill="#1a1a1a" stroke="#1a1a1a" stroke-width="0.1" >Purchase 4.5 yr old cull</text><text x="0" y="0" transform="translate(571.00 416.10) scale(1 1.08)" font-size="9.03" text-anchor="start" font-weight="normal" fill="#1a1a1a" stroke="#1a1a1a" stroke-width="0.1" >September</text><circle cx="562.30" cy="429.60" r="4.40" fill="#ffd0dc" stroke="#707070" stroke-width="1"/><text x="0" y="0" transform="translate(571.00 432.90) scale(1 1.08)" font-size="9.03" text-anchor="start" font-weight="normal" fill="#1a1a1a" stroke="#1a1a1a" stroke-width="0.1" >WR 112% + supps</text><circle cx="562.30" cy="444.30" r="4.40" fill="#f898c8" stroke="#707070" stroke-width="1"/><text x="0" y="0" transform="translate(571.00 447.60) scale(1 1.08)" font-size="9.03" text-anchor="start" font-weight="normal" fill="#1a1a1a" stroke="#1a1a1a" stroke-width="0.1" >WR 120% + supps</text><circle cx="562.30" cy="459.20" r="4.40" fill="#f840f8" stroke="#707070" stroke-width="1"/><text x="0" y="0" transform="translate(571.00 462.50) scale(1 1.08)" font-size="9.03" text-anchor="start" font-weight="normal" fill="#1a1a1a" stroke="#1a1a1a" stroke-width="0.1" >WR 140% + supps</text></svg>
</body></html>
